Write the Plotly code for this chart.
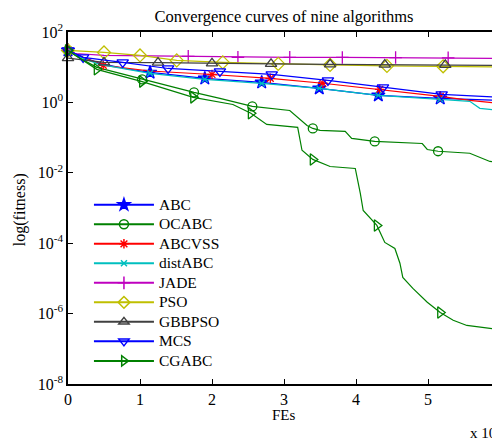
import plotly.graph_objects as go

TITLE = "Convergence curves of nine algorithms"
X_TICKS = [0, 1, 2, 3, 4, 5, 6]
Y_TICK_VALS = [1e-8, 1e-6, 1e-4, 1e-2, 1e0, 1e2]
Y_TICK_TEXT = ["10<sup>-8</sup>", "10<sup>-6</sup>", "10<sup>-4</sup>",
               "10<sup>-2</sup>", "10<sup>0</sup>", "10<sup>2</sup>"]

# FEs in units of 1e5, fitness values
abc_x = [0, 0.21, 0.44, 0.79, 1.14, 1.90, 2.69, 3.49, 4.31, 5.17, 6.0]
abc_y = [30, 19, 12.8, 9.2, 7.1, 4.8, 3.7, 2.5, 1.58, 1.30, 1.14]

ocabc_x = [0, 0.17, 0.40, 0.72, 1.03, 1.42, 1.75, 2.11, 2.56, 3.08, 3.19, 3.32,
           3.40, 3.50, 3.85, 3.94, 4.26, 4.92, 4.99, 5.14, 5.58, 5.72, 5.86, 6.0]
ocabc_y = [30, 17.8, 9.9, 6.7, 4.5, 2.85, 1.92, 1.3, 0.77, 0.59, 0.375, 0.222,
           0.182, 0.160, 0.150, 0.095, 0.078, 0.068, 0.046, 0.041, 0.036, 0.027, 0.021, 0.0197]

abcvss_x = [0, 0.21, 0.49, 1.14, 2.0, 2.81, 3.54, 4.33, 5.17, 5.58, 6.0]
abcvss_y = [30, 19, 11.3, 7.8, 6.2, 4.8, 3.5, 2.34, 1.48, 1.14, 0.94]

distabc_x = [0, 0.21, 0.44, 1.14, 1.90, 2.69, 3.49, 4.31, 5.17, 5.58, 5.72, 5.93, 6.0]
distabc_y = [30, 17.8, 12, 6.7, 4.5, 3.46, 2.5, 1.58, 1.22, 1.07, 0.68, 0.59, 0.59]

jade_x = [0, 0.1, 0.5, 0.94, 1.67, 2.36, 3.08, 3.81, 4.55, 5.28, 6.0]
jade_y = [30, 24.5, 21.6, 21.0, 20.3, 19.0, 19.0, 18.9, 18.8, 18.4, 17.8]

pso_x = [0, 0.5, 1.0, 1.51, 2.15, 2.92, 3.64, 4.43, 5.21, 6.0]
pso_y = [30, 26.3, 21.6, 15.6, 13.7, 12.4, 11.6, 10.9, 10.6, 10.2]

gbbpso_x = [0, 0.5, 1.25, 2.0, 2.82, 3.64, 4.4, 5.24, 6.0]
gbbpso_y = [18, 13.8, 13.5, 12.8, 12.4, 12.0, 11.9, 11.6, 11.3]

mcs_x = [0, 0.21, 0.76, 1.39, 2.11, 2.83, 3.61, 4.375, 5.19, 6.0]
mcs_y = [30, 19, 13.7, 9.2, 7.6, 6.25, 4.2, 2.67, 1.69, 1.39]

cgabc_x = [0, 0.40, 1.03, 1.74, 2.29, 2.54, 2.76, 3.19, 3.25, 3.40, 3.64, 3.99,
           4.06, 4.10, 4.29, 4.40, 4.54, 4.61, 4.65, 4.79, 4.99, 5.17, 5.35, 5.54, 6.0]
cgabc_y = [30, 8.7, 3.9, 1.39, 0.87, 0.49, 0.237, 0.195, 0.0437, 0.024, 0.0151, 0.0133,
           0.0026, 8.5e-4, 3.2e-4, 1.05e-4, 7.1e-5, 2.7e-5, 1.07e-5, 5.2e-6, 2.1e-6,
           1.07e-6, 6.5e-7, 4.6e-7, 3.5e-7]

SERIES = [
    ("ABC", abc_x, abc_y, "rgb(0,0,255)", "star", [0, 4, 5, 6, 7, 8, 9], 10),
    ("OCABC", ocabc_x, ocabc_y, "rgb(0,128,0)", "circle-open", [0, 4, 6, 8, 12, 16, 19, 23], 9),
    ("ABCVSS", abcvss_x, abcvss_y, "rgb(255,0,0)", "asterisk-open", [0, 2, 4, 5, 6, 7, 8], 8),
    ("distABC", distabc_x, distabc_y, "rgb(0,191,191)", "x-thin-open", [0, 3, 4, 5, 6, 7, 8], 6),
    ("JADE", jade_x, jade_y, "rgb(191,0,191)", "cross-thin-open", [0, 4, 5, 6, 7, 8, 9, 10], 9),
    ("PSO", pso_x, pso_y, "rgb(191,191,0)", "diamond-open", [0, 1, 2, 3, 4, 5, 6, 7, 8, 9], 10),
    ("GBBPSO", gbbpso_x, gbbpso_y, "rgb(64,64,64)", "triangle-up-open", [0, 1, 2, 3, 4, 5, 6, 7, 8], 10),
    ("MCS", mcs_x, mcs_y, "rgb(0,0,255)", "triangle-down-open", [0, 1, 2, 3, 4, 5, 6, 7, 8, 9], 10),
    ("CGABC", cgabc_x, cgabc_y, "rgb(0,128,0)", "triangle-right-open", [0, 1, 2, 3, 5, 9, 14, 21, 24], 10),
]

FONT = "Liberation Serif"

fig = go.Figure()
for name, xs, ys, color, sym, idx, msize in SERIES:
    fig.add_trace(go.Scatter(x=xs, y=ys, mode="lines", line=dict(color=color, width=1.2),
                             showlegend=False, hoverinfo="skip"))
    fig.add_trace(go.Scatter(x=[xs[i] for i in idx], y=[ys[i] for i in idx], mode="markers",
                             marker=dict(symbol=sym, size=msize, color=color,
                                         line=dict(color=color, width=1.3)),
                             showlegend=False, hoverinfo="skip", cliponaxis=False))
    fig.add_trace(go.Scatter(x=[None], y=[None], mode="lines+markers",
                             name='<span style="font-size:15.5px">' + name + '</span>',
                             line=dict(color=color, width=2),
                             marker=dict(symbol=sym, size=min(msize, 9), color=color,
                                         line=dict(color=color, width=1.5))))

fig.update_layout(
    width=492, height=431,
    margin=dict(l=60, r=0, t=24, b=55, autoexpand=False),
    paper_bgcolor="white", plot_bgcolor="white",
    font=dict(family=FONT, size=16, color="black"),
    title=dict(text=TITLE, x=0.561, xanchor="center", y=0.982, yanchor="middle",
               font=dict(family=FONT, size=16.5, color="black")),
    legend=dict(x=0.0485, xanchor="left", y=0.551, yanchor="top", bgcolor="rgba(0,0,0,0)",
                font=dict(family=FONT, size=12.7), tracegroupgap=0, itemwidth=60),
    showlegend=True,
)
fig.update_xaxes(range=[0, 6], tickvals=X_TICKS, ticktext=[str(t) for t in X_TICKS],
                 showgrid=False, zeroline=False, showline=True, linecolor="black", linewidth=1.5,
                 mirror="ticks", ticks="inside", ticklen=5, tickcolor="black", tickwidth=1,
                 tickfont=dict(family=FONT, size=16), automargin=False)
fig.update_yaxes(type="log", range=[-8, 2], tickvals=Y_TICK_VALS, ticktext=Y_TICK_TEXT,
                 showgrid=False, zeroline=False, showline=True, linecolor="black", linewidth=1.5,
                 mirror="ticks", ticks="inside", ticklen=5, tickcolor="black", tickwidth=1,
                 tickfont=dict(family=FONT, size=16), automargin=False)

fig.add_annotation(text="FEs", xref="paper", yref="paper", x=0.5, y=-0.088,
                   xanchor="center", yanchor="middle", showarrow=False,
                   font=dict(family=FONT, size=15))
fig.add_annotation(text="log(fitness)", xref="paper", yref="paper", x=-0.111, y=0.494,
                   xanchor="center", yanchor="middle", textangle=-90, showarrow=False,
                   font=dict(family=FONT, size=16))
fig.add_annotation(text="x 10<sup>5</sup>", xref="paper", yref="paper", x=0.926, y=-0.136,
                   xanchor="left", yanchor="middle", showarrow=False,
                   font=dict(family=FONT, size=15))

fig.write_html("out.html")
